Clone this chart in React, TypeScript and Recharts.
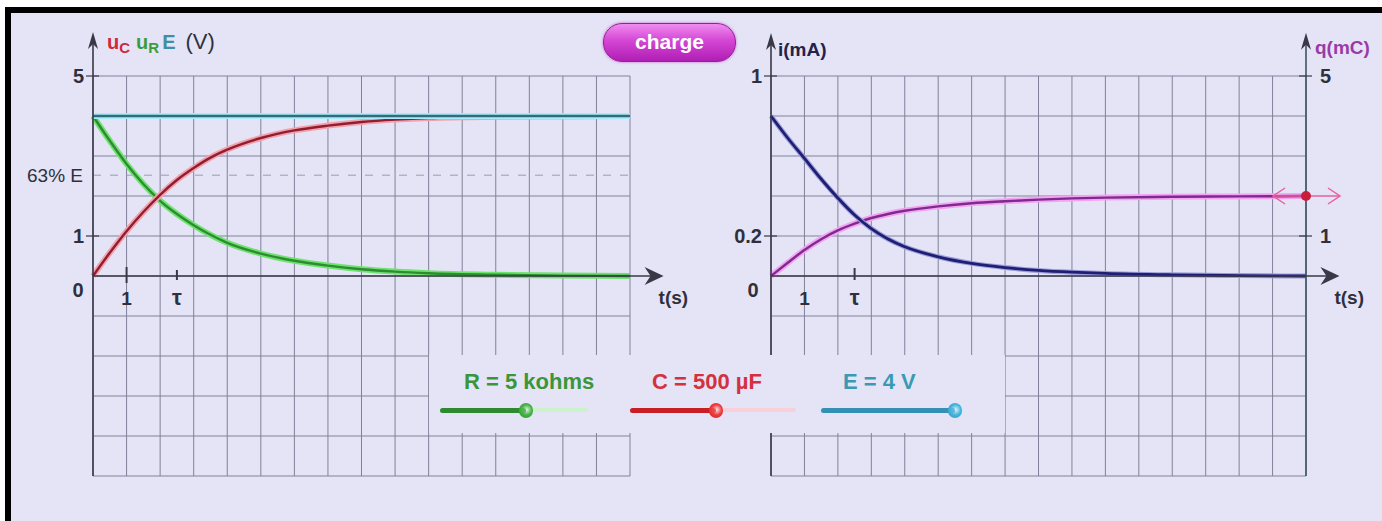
import React from "react";
import {
  LineChart,
  Line,
  XAxis,
  YAxis,
  CartesianGrid,
  ReferenceLine,
  ReferenceDot,
} from "recharts";

// sample times (s)
const times = [0, 0.5, 1, 1.5, 2, 2.5, 3, 3.5, 4, 5, 6, 7, 8, 9, 10, 12, 14, 16];

// left panel, volts
const ucVolts = [0, 0.58, 1.12, 1.6, 2.03, 2.4, 2.7, 2.96, 3.16, 3.45, 3.64, 3.76, 3.85, 3.91, 3.95, 3.98, 3.99, 4];
const urVolts = [4, 3.38, 2.8, 2.3, 1.88, 1.55, 1.27, 1.03, 0.83, 0.56, 0.38, 0.26, 0.17, 0.11, 0.07, 0.03, 0.01, 0];
const eVolts = [4, 4, 4, 4, 4, 4, 4, 4, 4, 4, 4, 4, 4, 4, 4, 4, 4, 4];

// right panel, mA and mC
const currentMa = [0.8, 0.69, 0.588, 0.485, 0.39, 0.305, 0.237, 0.185, 0.146, 0.096, 0.063, 0.042, 0.028, 0.019, 0.013, 0.006, 0.002, 0];
const chargeMc = [0, 0.33, 0.65, 0.92, 1.14, 1.31, 1.45, 1.55, 1.63, 1.74, 1.82, 1.87, 1.91, 1.94, 1.96, 1.98, 1.99, 2];

const timeTicks = [0, 1, 2, 3, 4, 5, 6, 7, 8, 9, 10, 11, 12, 13, 14, 15, 16];
const voltTicks = [-5, -4, -3, -2, -1, 0, 1, 2, 3, 4, 5];
const currentTicks = [-1, -0.8, -0.6, -0.4, -0.2, 0, 0.2, 0.4, 0.6, 0.8, 1];
const chargeTicks = [-5, -4, -3, -2, -1, 0, 1, 2, 3, 4, 5];

const voltLabels = [5, 1];
const currentLabels = [1, 0.2];
const chargeLabels = [5, 1];

const tau = 2.5;
const level63 = 2.52;
const finalCharge = 2;

const FONT = "'Liberation Sans', Arial, sans-serif";
const BG = "#e4e4f6";
const GRID = "#80809a";
const AXIS = "#383846";
const TEXT = "#30303c";

const leftData = times.map((t, k) => ({ t, uc: ucVolts[k], ur: urVolts[k], e: eVolts[k] }));
const rightData = times.map((t, k) => ({ t, i: currentMa[k], q: chargeMc[k] }));

function SideTick(props: any) {
  const { x, y, payload, labels, side, labelDx, zeroDx } = props;
  const v = payload?.value;
  if (v === 0 && zeroDx !== undefined) {
    return (
      <text x={x + zeroDx} y={y + 21} textAnchor="middle" fill={TEXT} fontSize={20} fontWeight="bold" fontFamily={FONT}>
        0
      </text>
    );
  }
  if (!labels.includes(v)) return <g />;
  return (
    <g>
      <line x1={x - 7} x2={x + 6} y1={y} y2={y} stroke={AXIS} strokeWidth={1.2} />
      <text
        x={x + labelDx}
        y={y + 7}
        textAnchor={side === "left" ? "end" : "start"}
        fill={TEXT}
        fontSize={20}
        fontWeight="bold"
        fontFamily={FONT}
      >
        {v}
      </text>
    </g>
  );
}

const NoTick = () => <g />;

function UpAxis(props: any) {
  const { x1, y1, y2, color, children } = props;
  const tip = Math.min(y1, y2);
  const base = Math.max(y1, y2);
  return (
    <g>
      <line x1={x1} x2={x1} y1={base} y2={tip + 6} stroke={color} strokeWidth={1.6} />
      <path d={`M${x1},${tip} L${x1 - 5},${tip + 17} L${x1},${tip + 12} L${x1 + 5},${tip + 17} Z`} fill={AXIS} />
      {children}
    </g>
  );
}

function RightAxis(props: any) {
  const { x1, y1, x2 } = props;
  const tip = Math.max(x1, x2);
  return (
    <g>
      <line x1={Math.min(x1, x2)} x2={tip - 6} y1={y1} y2={y1} stroke={AXIS} strokeWidth={1.6} />
      <path d={`M${tip},${y1} L${tip - 19},${y1 - 9} L${tip - 13},${y1} L${tip - 19},${y1 + 9} Z`} fill={AXIS} />
      <text x={tip - 5} y={y1 + 28} fill={TEXT} fontSize={19} fontWeight="bold" fontFamily={FONT}>
        t(s)
      </text>
    </g>
  );
}

function TimeMark(props: any) {
  const { cx, cy, text, up, down, size } = props;
  return (
    <g>
      <line x1={cx} x2={cx} y1={cy - up} y2={cy + down} stroke={AXIS} strokeWidth={2} />
      <text x={cx} y={cy + 29} textAnchor="middle" fill={TEXT} fontSize={size} fontWeight="bold" fontFamily={FONT}>
        {text}
      </text>
    </g>
  );
}

function ChargeMarker(props: any) {
  const { cx, cy } = props;
  const pink = "#e8609a";
  return (
    <g>
      <line x1={cx - 33} x2={cx + 34} y1={cy} y2={cy} stroke={pink} strokeWidth={1.5} />
      <path d={`M${cx - 21},${cy - 8} L${cx - 33},${cy} L${cx - 21},${cy + 8}`} fill="none" stroke={pink} strokeWidth={1.5} />
      <path d={`M${cx + 22},${cy - 8} L${cx + 34},${cy} L${cx + 22},${cy + 8}`} fill="none" stroke={pink} strokeWidth={1.5} />
      <circle cx={cx} cy={cy} r={5} fill="#c81e3c" />
    </g>
  );
}

function VoltageChart() {
  return (
    <LineChart width={700} height={521} data={leftData} margin={{ top: 76, right: 70, bottom: 44, left: 92 }}>
      <CartesianGrid stroke={GRID} strokeWidth={1} />
      <XAxis
        type="number"
        dataKey="t"
        domain={[0, 16]}
        ticks={timeTicks}
        interval={0}
        height={1}
        axisLine={false}
        tickLine={false}
        tick={NoTick}
      />
      <YAxis
        type="number"
        domain={[-5, 5]}
        ticks={voltTicks}
        interval={0}
        width={1}
        axisLine={false}
        tickLine={false}
        tickSize={0}
        tickMargin={0}
        tick={(p: any) => <SideTick {...p} labels={voltLabels} side="left" labelDx={-9} zeroDx={-15} />}
      />
      <ReferenceLine
        y={level63}
        stroke="#9c9cb0"
        strokeDasharray="8 9"
        label={{ value: "63% E", position: "left", offset: 10, fill: TEXT, fontSize: 19, fontFamily: FONT }}
      />
      <Line dataKey="ur" type="monotone" stroke="#6ee26e" strokeWidth={6} dot={false} isAnimationActive={false} />
      <Line dataKey="ur" type="monotone" stroke="#2e8c30" strokeWidth={2.4} dot={false} isAnimationActive={false} />
      <Line dataKey="uc" type="monotone" stroke="#f3a0ac" strokeWidth={6} dot={false} isAnimationActive={false} />
      <Line dataKey="uc" type="monotone" stroke="#8e1e30" strokeWidth={2.4} dot={false} isAnimationActive={false} />
      <Line dataKey="e" type="monotone" stroke="#a6ecfa" strokeWidth={6} dot={false} isAnimationActive={false} />
      <Line dataKey="e" type="monotone" stroke="#356a7a" strokeWidth={2.6} dot={false} isAnimationActive={false} />
      <ReferenceLine
        segment={[{ x: 0, y: -5 }, { x: 0, y: 6.1 }]}
        ifOverflow="visible"
        shape={(p: any) => (
          <UpAxis {...p} color={AXIS}>
            <text x={p.x1 + 14} y={Math.min(p.y1, p.y2) + 17} fontSize={20} fontWeight="bold" fontFamily={FONT}>
              <tspan fill="#d0283c">u</tspan>
              <tspan fill="#d0283c" fontSize={15} dy={4}>C</tspan>
              <tspan fill="#3c9c3c" dy={-4} dx={6}>u</tspan>
              <tspan fill="#3c9c3c" fontSize={15} dy={4}>R</tspan>
              <tspan fill="#3f8fa2" dy={-4} dx={3}>E</tspan>
              <tspan fill={TEXT} fontWeight="normal" fontSize={22} dx={10}>(V)</tspan>
            </text>
          </UpAxis>
        )}
      />
      <ReferenceLine segment={[{ x: 0, y: 0 }, { x: 17, y: 0 }]} ifOverflow="visible" shape={(p: any) => <RightAxis {...p} />} />
      <ReferenceDot x={1} y={0} r={0} ifOverflow="visible" shape={(p: any) => <TimeMark {...p} text="1" up={9} down={7} size={19} />} />
      <ReferenceDot x={tau} y={0} r={0} ifOverflow="visible" shape={(p: any) => <TimeMark {...p} text="τ" up={6} down={4} size={22} />} />
    </LineChart>
  );
}

function CurrentChart() {
  return (
    <LineChart width={682} height={521} data={rightData} margin={{ top: 76, right: 75, bottom: 44, left: 70 }}>
      <CartesianGrid stroke={GRID} strokeWidth={1} yAxisId="i" />
      <XAxis
        type="number"
        dataKey="t"
        domain={[0, 16]}
        ticks={timeTicks}
        interval={0}
        height={1}
        axisLine={false}
        tickLine={false}
        tick={NoTick}
      />
      <YAxis
        yAxisId="i"
        type="number"
        domain={[-1, 1]}
        ticks={currentTicks}
        interval={0}
        width={1}
        axisLine={false}
        tickLine={false}
        tickSize={0}
        tickMargin={0}
        tick={(p: any) => <SideTick {...p} labels={currentLabels} side="left" labelDx={-9} zeroDx={-18} />}
      />
      <YAxis
        yAxisId="q"
        orientation="right"
        type="number"
        domain={[-5, 5]}
        ticks={chargeTicks}
        interval={0}
        width={1}
        axisLine={false}
        tickLine={false}
        tickSize={0}
        tickMargin={0}
        tick={(p: any) => <SideTick {...p} labels={chargeLabels} side="right" labelDx={14} />}
      />
      <Line yAxisId="q" dataKey="q" type="monotone" stroke="#f4a2f2" strokeWidth={6} dot={false} isAnimationActive={false} />
      <Line yAxisId="q" dataKey="q" type="monotone" stroke="#7e2a8e" strokeWidth={2.4} dot={false} isAnimationActive={false} />
      <Line yAxisId="i" dataKey="i" type="monotone" stroke="#9c9cdc" strokeWidth={5} dot={false} isAnimationActive={false} />
      <Line yAxisId="i" dataKey="i" type="monotone" stroke="#1e1e72" strokeWidth={2.8} dot={false} isAnimationActive={false} />
      <ReferenceLine
        yAxisId="i"
        segment={[{ x: 0, y: -1 }, { x: 0, y: 1.215 }]}
        ifOverflow="visible"
        shape={(p: any) => (
          <UpAxis {...p} color={AXIS}>
            <text x={p.x1 + 7} y={Math.min(p.y1, p.y2) + 23} fill="#22224c" fontSize={19} fontWeight="bold" fontFamily={FONT}>
              i(mA)
            </text>
          </UpAxis>
        )}
      />
      <ReferenceLine
        yAxisId="q"
        segment={[{ x: 16, y: -5 }, { x: 16, y: 6.08 }]}
        ifOverflow="visible"
        shape={(p: any) => (
          <UpAxis {...p} color="#3a5664">
            <text x={p.x1 + 9} y={Math.min(p.y1, p.y2) + 21} fill="#9a3aa8" fontSize={19} fontWeight="bold" fontFamily={FONT}>
              q(mC)
            </text>
          </UpAxis>
        )}
      />
      <ReferenceLine yAxisId="i" segment={[{ x: 0, y: 0 }, { x: 17, y: 0 }]} ifOverflow="visible" shape={(p: any) => <RightAxis {...p} />} />
      <ReferenceDot yAxisId="i" x={1} y={0} r={0} ifOverflow="visible" shape={(p: any) => <TimeMark {...p} text="1" up={0} down={0} size={19} />} />
      <ReferenceDot yAxisId="i" x={tau} y={0} r={0} ifOverflow="visible" shape={(p: any) => <TimeMark {...p} text="τ" up={8} down={4} size={22} />} />
      <ReferenceDot yAxisId="q" x={16} y={finalCharge} r={0} ifOverflow="visible" shape={(p: any) => <ChargeMarker {...p} />} />
    </LineChart>
  );
}

function Slider({ left, textLeft, label, textColor, dark, light, knob, barEnd, trackEnd }: any) {
  return (
    <>
      <div
        style={{
          position: "absolute",
          left: textLeft,
          top: 16,
          fontSize: 22,
          fontWeight: "bold",
          color: textColor,
          whiteSpace: "nowrap",
          lineHeight: "22px",
        }}
      >
        {label}
      </div>
      {trackEnd > barEnd && (
        <div style={{ position: "absolute", left: barEnd, top: 53, width: trackEnd - barEnd, height: 4, background: light, borderRadius: 2 }} />
      )}
      <div style={{ position: "absolute", left, top: 53, width: barEnd - left, height: 5, background: dark, borderRadius: 3 }} />
      <div
        style={{
          position: "absolute",
          left: barEnd - 7,
          top: 48,
          width: 14,
          height: 15,
          borderRadius: 7,
          background: `radial-gradient(circle at 55% 45%, #ffffff55 0%, ${knob} 45%, ${dark} 100%)`,
        }}
      />
    </>
  );
}

export default function App() {
  return (
    <div
      style={{
        position: "absolute",
        left: 0,
        top: 0,
        width: 1382,
        height: 521,
        background: "#fff",
        overflow: "hidden",
        fontFamily: FONT,
      }}
    >
      <div
        style={{
          position: "absolute",
          left: 5,
          top: 7,
          right: 0,
          bottom: 0,
          background: BG,
          borderTop: "6px solid #000",
          borderLeft: "6px solid #000",
        }}
      />
      <div style={{ position: "absolute", left: 0, top: 0 }}>
        <VoltageChart />
      </div>
      <div style={{ position: "absolute", left: 700, top: 0 }}>
        <CurrentChart />
      </div>
      <div
        style={{
          position: "absolute",
          left: 603,
          top: 23,
          width: 131,
          height: 37,
          borderRadius: 19,
          border: "1.5px solid #9a1c9a",
          background: "linear-gradient(180deg, #f08cf0 0%, #d446d4 45%, #b01eb4 100%)",
          boxShadow: "0 0 3px #c860c8",
          color: "#fff",
          fontSize: 21,
          fontWeight: "bold",
          textAlign: "center",
          lineHeight: "36px",
        }}
      >
        charge
      </div>
      <div style={{ position: "absolute", left: 429, top: 355, width: 576, height: 78, background: BG }}>
        <Slider
          left={11}
          textLeft={35}
          label="R = 5 kohms"
          textColor="#3a963a"
          dark="#2e8a2e"
          light="#ccf2cc"
          knob="#46b446"
          barEnd={97}
          trackEnd={159}
        />
        <Slider
          left={201}
          textLeft={223}
          label="C = 500 µF"
          textColor="#d4303e"
          dark="#c81e26"
          light="#f8d0da"
          knob="#ee3c3c"
          barEnd={287}
          trackEnd={367}
        />
        <Slider
          left={392}
          textLeft={414}
          label="E = 4 V"
          textColor="#3a9ab4"
          dark="#3590b6"
          light="#cdeef8"
          knob="#44b6e0"
          barEnd={526}
          trackEnd={534}
        />
      </div>
    </div>
  );
}
